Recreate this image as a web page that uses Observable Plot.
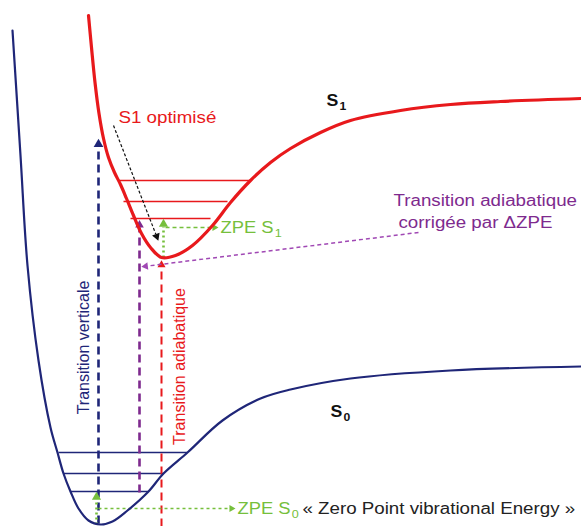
<!DOCTYPE html>
<html><head><meta charset="utf-8">
<script src="https://cdn.jsdelivr.net/npm/d3@7"></script>
<script src="https://cdn.jsdelivr.net/npm/@observablehq/plot@0.6"></script>
<style>body{margin:0;background:#fff} svg{display:block}</style>
</head><body><div id="chart"></div>
<script>
// ---- data (x = nuclear coordinate, E = energy) ----
const s0Curve = [[12,496],[20,371],[27,261],[38,166],[50,99],[57,74],[63,53],[70,35],[78,18],[88,6],[100,2],[112,5],[127,16],[148,35],[163,53],[187,74],[222,106],[260,128],[290,137],[350,148],[450,156],[581,160]];
const s1Curve = [[88,511],[91,479],[94.5,444],[98.5,413],[103,388],[108,369],[114,354],[120,342],[126,328],[133,311],[141,293],[150,279],[161,269],[175,271],[192,281],[212,301],[230,324],[250,346],[270,364],[290,378],[320,394],[350,406],[400,416],[450,422],[500,425],[581,428]];
// vibrational levels: [xStart, xEnd, E]
const s0Levels = [[58,187,74],[63,163,53],[70,148,35]];
const s1Levels = [[118,250,346],[123,227,325],[130,210,308]];
// transitions: [x, Efrom, Eto]
const verticalTransition = [98, 3, 385];
const correctedTransition = [139, 34, 304];
const adiabaticTransition = [161, 0, 264];
// ZPE arrows: vertical [x, Efrom, Eto], horizontal [xFrom, xTo, E]
const zpeS1Vertical = [163, 269, 305];
const zpeS1Horizontal = [165, 216, 299];
const zpeS0Vertical = [96, 2, 32];
const zpeS0Horizontal = [98, 233, 18];
// annotation pointers: [x1, E1, x2, E2]
const correctedPointer = [418, 294, 143, 260];
const optimisedPointer = [113, 401, 157, 288];
// labels
const labelTexts = ["S1 optimisé", "S₁", "S₀", "ZPE S₁", "ZPE S₀", "« Zero Point vibrational Energy »", "Transition adiabatique", "corrigée par ΔZPE", "Transition verticale", "Transition adiabatique"];

// ---- styles ----
const RED = "#e8191c", NAVY = "#1f2678", PURPLE = "#7e2a8e", PURPLE_L = "#a048b4", GREEN = "#76bf3c";
const FONT = "Liberation Sans, Arial, sans-serif";

function vArrow(t, color, width, dash, r = 3.2) {
  const [x, e1, e2] = t;
  const dir = Math.sign(e2 - e1);
  const len = 2 * Math.sqrt(Math.PI * r * r / (3 * Math.sqrt(3)));
  return [
    Plot.link([t], {x1: d => d[0], y1: d => d[1], x2: d => d[0], y2: d => d[2] - dir * len, stroke: color, strokeWidth: width, strokeDasharray: dash}),
    Plot.dot([t], {x: d => d[0], y: d => d[2] - dir * len / 2, symbol: "triangle", r, fill: color, stroke: "none", rotate: dir > 0 ? 0 : 180})
  ];
}
function hArrow(t, color, width, dash, r = 3.2) {
  const len = 2 * Math.sqrt(Math.PI * r * r / (3 * Math.sqrt(3)));
  return [
    Plot.link([t], {x1: d => d[0], y1: d => d[2], x2: d => d[1] - len, y2: d => d[2], stroke: color, strokeWidth: width, strokeDasharray: dash}),
    Plot.dot([t], {x: d => d[1] - len / 2, y: d => d[2], symbol: "triangle", r, fill: color, stroke: "none", rotate: 90})
  ];
}
function pArrow(t, color, width, dash, r = 3.2) {
  const [x1, e1, x2, e2] = t;
  const dx = x2 - x1, dy = -(e2 - e1);
  const L = Math.hypot(dx, dy), ux = dx / L, uy = dy / L;
  const len = 2 * Math.sqrt(Math.PI * r * r / (3 * Math.sqrt(3)));
  const ang = Math.atan2(ux, -uy) * 180 / Math.PI;
  return [
    Plot.link([t], {x1: d => d[0], y1: d => d[1], x2: d => d[2] - ux * len, y2: d => d[3] + uy * len, stroke: color, strokeWidth: width, strokeDasharray: dash}),
    Plot.dot([t], {x: d => d[2] - ux * len / 2, y: d => d[3] + uy * len / 2, symbol: "triangle", r, fill: color, stroke: "none", rotate: ang})
  ];
}
function label(i, x, e, color, opts = {}) {
  return Plot.text([labelTexts[i]], {x: () => x, y: () => e, text: d => d, fill: color, fontSize: 16, fontFamily: FONT, textAnchor: "start", lineAnchor: "middle", className: "hstretch", ...opts});
}
const levelLine = (levels, color) => Plot.link(levels, {x1: d => d[0], x2: d => d[1], y1: d => d[2], y2: d => d[2], stroke: color, strokeWidth: 1.6});

const plot = Plot.plot({
  width: 581, height: 526,
  margin: 0,
  x: {domain: [0, 581], axis: null},
  y: {domain: [0, 526], axis: null},
  marks: [
    levelLine(s0Levels, NAVY),
    levelLine(s1Levels, RED),
    ...vArrow(verticalTransition, NAVY, 2.6, "8,5", 3.6),
    ...vArrow(correctedTransition, PURPLE, 2.6, "8,5", 3.2),
    ...vArrow(adiabaticTransition, RED, 2, "8,5", 3.0),
    ...vArrow(zpeS1Vertical, GREEN, 2.6, "2,3", 3.4),
    ...hArrow(zpeS1Horizontal, GREEN, 1.5, "4,3", 2.6),
    ...vArrow(zpeS0Vertical, GREEN, 2.6, "2,3", 3.4),
    ...hArrow(zpeS0Horizontal, GREEN, 1.5, "3,3", 2.6),
    ...pArrow(correctedPointer, PURPLE_L, 1.5, "4,3", 2.8),
    ...pArrow(optimisedPointer, "#111", 1.2, "3,2", 3.0),
    Plot.line(s0Curve, {x: d => d[0], y: d => d[1], stroke: NAVY, strokeWidth: 2.2, curve: "catmull-rom"}),
    Plot.line(s1Curve, {x: d => d[0], y: d => d[1], stroke: RED, strokeWidth: 3.2, curve: "catmull-rom"}),
    label(0, 118, 409, RED),
    label(1, 326, 426, "#111", {fontWeight: "bold"}),
    label(2, 330, 115, "#111", {fontWeight: "bold"}),
    label(3, 220, 299, GREEN),
    label(4, 237, 18, GREEN),
    label(5, 302, 18, "#222"),
    label(6, 393, 326, PURPLE),
    label(7, 398, 304, PURPLE),
    Plot.text([labelTexts[8]], {x: () => 83, y: () => 179, text: d => d, fill: NAVY, fontSize: 16, fontFamily: FONT, rotate: -90, textAnchor: "middle", lineAnchor: "middle"}),
    Plot.text([labelTexts[9]], {x: () => 179, y: () => 160, text: d => d, fill: RED, fontSize: 16, fontFamily: FONT, rotate: -90, textAnchor: "middle", lineAnchor: "middle"})
  ]
});
document.getElementById("chart").appendChild(plot);
// render unicode subscripts as real lowered, smaller digits
const SUB = {"₀": "0", "₁": "1"};
plot.querySelectorAll("text").forEach(t => {
  const s = t.textContent;
  if (!/[₀₁]/.test(s) || t.children.length) return;
  t.textContent = "";
  const ns = "http://www.w3.org/2000/svg";
  for (const part of s.split(/([₀₁])/)) {
    if (!part) continue;
    const ts = document.createElementNS(ns, "tspan");
    if (SUB[part]) {
      ts.textContent = SUB[part];
      ts.setAttribute("font-size", "11");
      ts.setAttribute("dy", "4");
      ts.setAttribute("dx", "1");
    } else ts.textContent = part;
    t.appendChild(ts);
  }
});
plot.querySelectorAll("g.hstretch text").forEach(t => {
  const w = t.getComputedTextLength();
  t.setAttribute("textLength", (w * 1.17).toFixed(1));
  t.setAttribute("lengthAdjust", "spacingAndGlyphs");
});
</script>
</body></html>
